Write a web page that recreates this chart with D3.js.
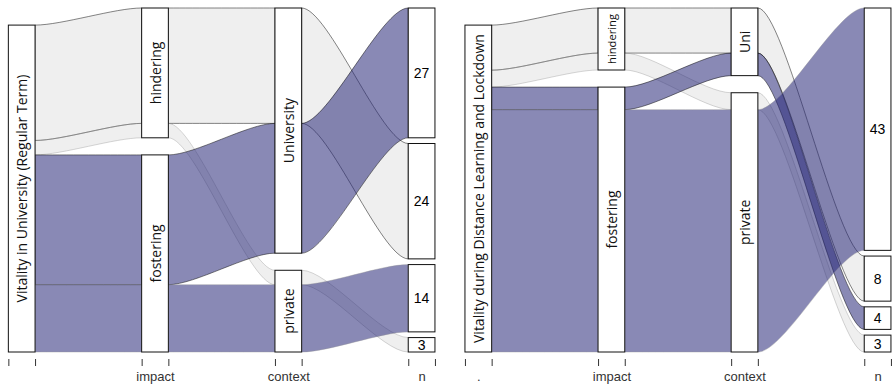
<!DOCTYPE html>
<html>
<head>
<meta charset="utf-8">
<script src="https://cdn.jsdelivr.net/npm/d3@7"></script>
<style>
  html, body { margin: 0; padding: 0; background: #fff; }
  svg { display: block; }
</style>
</head>
<body>
<svg id="chart" width="893" height="386"></svg>
<script>
// ---------------- data ----------------
const axisLabelsLeft  = ["", "impact", "context", "n"];
const axisLabelsRight = [".", "impact", "context", "n"];
const firstStratumLeft  = "Vitality in University (Regular Term)";
const firstStratumRight = "Vitality during Distance Learning and Lockdown";
const impactLevels = ["hindering", "fostering"];
const contextLevelsLeft  = ["University", "private"];
const contextLevelsRight = ["Uni", "private"];
// alluvia (one per row): impact, context, count
const impactLeft   = ["hindering", "hindering", "fostering", "fostering"];
const contextLeft  = ["University", "private", "University", "private"];
const countsLeft   = [24, 3, 27, 14];
const impactRight  = ["hindering", "hindering", "fostering", "fostering"];
const contextRight = ["Uni", "private", "Uni", "private"];
const countsRight  = [8, 3, 4, 43];

// ---------------- styling ----------------
const fillColor = { hindering: "rgba(120,120,120,0.12)", fostering: "rgba(40,40,120,0.55)" };
const yTop = 8, yBottom = 352;
const sep = 0.0523;
const boxW = 26.7;
const curveS = 0.25;

const svg = d3.select("#chart");

function drawPanel(cfg) {
  const { centers, axisLabels, firstLabel, impact, context, counts, contextLevels } = cfg;
  const nAl = counts.length;
  const T = d3.sum(counts);
  const y = d3.scaleLinear().domain([0, T * (1 + sep)]).range([yBottom, yTop]);
  const x = d3.scalePoint().domain(d3.range(4)).range([centers[0], centers[3]]);

  const keyFns = [
    () => firstLabel,
    i => impact[i],
    i => context[i],
    i => String(counts[i])
  ];
  const nLevels = counts.slice().sort((a, b) => b - a).map(String);
  const levelLists = [[firstLabel], impactLevels, contextLevels, nLevels];

  const pos = d3.range(4).map(() => new Array(nAl));
  const strata = [];
  for (let a = 0; a < 4; a++) {
    const levels = levelLists[a].filter(l => d3.range(nAl).some(i => keyFns[a](i) === l));
    const k = levels.length;
    const gapTotal = k > 1 ? sep * T : 0;
    const gap = k > 1 ? gapTotal / (k - 1) : 0;
    let start = T + gapTotal;
    levels.forEach(l => {
      const members = d3.range(nAl).filter(i => keyFns[a](i) === l);
      const tot = d3.sum(members, i => counts[i]);
      const top = start, bot = start - tot;
      strata.push({ axis: a, label: l, top, bot });
      let cur = top;
      members.forEach(i => { pos[a][i] = { top: cur, bot: cur - counts[i] }; cur -= counts[i]; });
      start = bot - gap;
    });
  }

  const flows = [];
  for (let a = 0; a < 3; a++) {
    for (let i = 0; i < nAl; i++) flows.push({ a, i });
  }
  flows.sort((p, q) => (impact[p.i] === "hindering" ? 0 : 1) - (impact[q.i] === "hindering" ? 0 : 1));
  const g = svg.append("g");
  g.selectAll("path.flow").data(flows).join("path")
    .attr("class", "flow")
    .attr("d", f => {
      const x1 = x(f.a) + boxW / 2, x2 = x(f.a + 1) - boxW / 2;
      const c1 = x1 + (x2 - x1) * curveS, c2 = x2 - (x2 - x1) * curveS;
      const p0 = pos[f.a][f.i], p1 = pos[f.a + 1][f.i];
      const a0 = y(p0.top), b0 = y(p0.bot), a1 = y(p1.top), b1 = y(p1.bot);
      return `M${x1},${a0}C${c1},${a0} ${c2},${a1} ${x2},${a1}L${x2},${b1}C${c2},${b1} ${c1},${b0} ${x1},${b0}Z`;
    })
    .attr("fill", f => fillColor[impact[f.i]])
    .attr("stroke", f => context[f.i] === "private" ? "rgba(150,150,150,0.6)" : "rgba(20,20,20,0.8)")
    .attr("stroke-width", 0.65);

  const sg = svg.append("g").selectAll("g").data(strata).join("g");
  sg.append("rect")
    .attr("x", d => x(d.axis) - boxW / 2)
    .attr("y", d => y(d.top))
    .attr("width", boxW)
    .attr("height", d => y(d.bot) - y(d.top))
    .attr("fill", "#fff")
    .attr("stroke", "#111")
    .attr("stroke-width", 1);
  sg.each(function (d) {
    const cx = x(d.axis), cy = (y(d.top) + y(d.bot)) / 2;
    const h = y(d.bot) - y(d.top);
    if (d.axis === 3) {
      d3.select(this).append("text")
        .attr("x", cx).attr("y", cy)
        .attr("text-anchor", "middle").attr("dy", "0.36em")
        .style("font-family", "'Liberation Sans', Arial, sans-serif")
        .style("font-size", "14px").attr("fill", "#000")
        .text(d.label);
    } else {
      const t = d3.select(this).append("text")
        .attr("transform", `translate(${cx + 0.5},${cy}) rotate(-90)`)
        .attr("text-anchor", "middle").attr("dy", "0.36em")
        .style("font-family", "'Open Sans', sans-serif")
        .style("font-size", "14px").attr("fill", "#111")
        .text(d.label);
      const len = t.node().getComputedTextLength();
      const maxLen = h - 12;
      if (len > maxLen) t.style("font-size", (14 * maxLen / len) + "px");
    }
  });

  const tickVals = [];
  d3.range(4).forEach(a => { tickVals.push(x(a) - boxW / 2, x(a) + boxW / 2); });
  const xl = d3.scaleLinear().domain([0, 893]).range([0, 893]);
  const ax = svg.append("g").attr("transform", `translate(0,359)`)
    .call(d3.axisBottom(xl).tickValues(tickVals).tickSize(7).tickFormat(""));
  ax.select(".domain").remove();
  ax.selectAll(".tick line").attr("stroke", "#333").attr("stroke-width", 1);

  const xlab = d3.scalePoint().domain(axisLabels.map((l, i) => i + ":" + l)).range([centers[0], centers[3]]);
  const al = svg.append("g").attr("transform", `translate(0,369)`)
    .call(d3.axisBottom(xlab).tickSize(0).tickFormat(v => v.split(":").slice(1).join(":")));
  al.select(".domain").remove();
  al.selectAll(".tick text")
    .attr("y", 0).attr("dy", "0.9em")
    .style("font-family", "'Liberation Sans', Arial, sans-serif")
    .style("font-size", "13px").attr("fill", "#333");
}

drawPanel({
  centers: [21.7, 155.0, 288.3, 421.6],
  axisLabels: axisLabelsLeft,
  firstLabel: firstStratumLeft,
  impact: impactLeft, context: contextLeft, counts: countsLeft,
  contextLevels: contextLevelsLeft
});
drawPanel({
  centers: [478.3, 611.0, 744.7, 877.6],
  axisLabels: axisLabelsRight,
  firstLabel: firstStratumRight,
  impact: impactRight, context: contextRight, counts: countsRight,
  contextLevels: contextLevelsRight
});
</script>
</body>
</html>
